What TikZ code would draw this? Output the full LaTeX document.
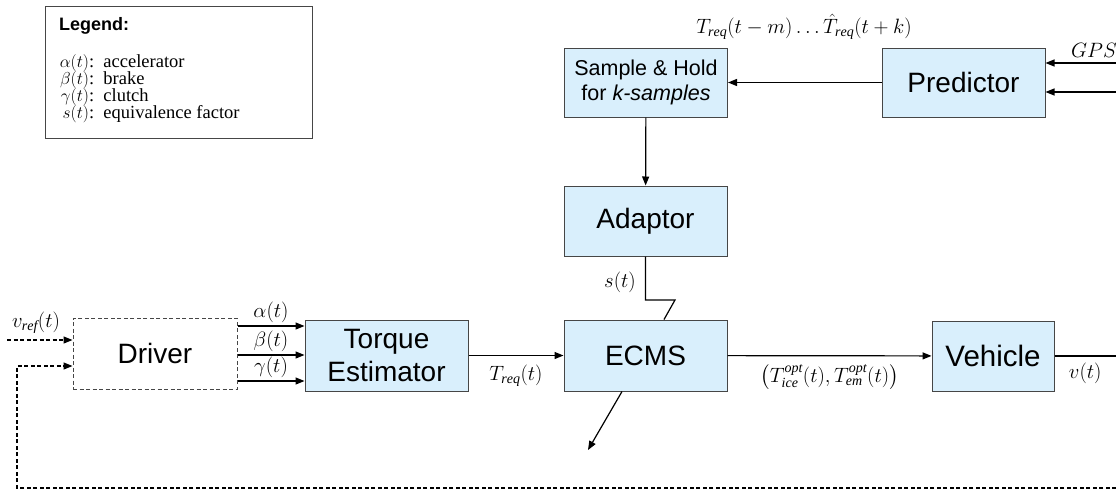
\documentclass[tikz,border=0pt]{standalone}
\usepackage{amsmath}
\usepackage{fontspec}
\setmainfont{Liberation Serif}
\setsansfont{Liberation Sans}
\usetikzlibrary{arrows.meta}
\definecolor{boxblue}{RGB}{217,239,252}
\definecolor{boxline}{RGB}{70,70,70}
\tikzset{
  block/.style={draw=boxline, fill=boxblue, line width=1pt, inner sep=0pt, align=center,
    minimum width=163pt, minimum height=70pt, font=\sffamily\fontsize{28}{33}\selectfont},
  sig/.style={line width=1.2pt, -{Triangle[length=9pt,width=7pt]}},
  wire/.style={line width=1.2pt},
  dashline/.style={dash pattern=on 4pt off 2.5pt},
  lbl/.style={font=\fontsize{20}{24}\selectfont, inner sep=0pt},
  legrow/.style={anchor=base west, inner sep=0pt, font=\fontsize{18.5}{20}\selectfont},
}
\newcommand{\legsym}[1]{\makebox[44pt][r]{$#1$:}\ \ }

\begin{document}
\begin{tikzpicture}[x=1pt, y=-1pt]
    \useasboundingbox (0,0) rectangle (1116,490);
    \clip (0,0) rectangle (1116,490);
    % legend
    \node[draw=boxline, line width=1pt, minimum width=267pt, minimum height=132pt, anchor=north west] (legend) at (45,6) {};
    \node[anchor=base west, inner sep=0pt, font=\sffamily\bfseries\fontsize{18}{20}\selectfont] (legtitle) at (59,30) {Legend:};
    \node[legrow] (legalpha) at (50,67) {\legsym{\alpha(t)}accelerator};
    \node[legrow] (legbeta) at (50,84) {\legsym{\beta(t)}brake};
    \node[legrow] (leggamma) at (50,101) {\legsym{\gamma(t)}clutch};
    \node[legrow] (legs) at (50,118) {\legsym{s(t)}equivalence factor};
    % blocks
    \node[block, fill=none, dashline, minimum width=164pt, minimum height=71pt] (driver) at (155,353.5) {Driver};
    \node[block, minimum height=71pt] (torque) at (386.5,355.5) {Torque\\Estimator};
    \node[block, minimum height=71pt] (ecms) at (645.5,355.5) {ECMS};
    \node[block, minimum width=122pt, font=\sffamily\fontsize{29.5}{33}\selectfont] (vehicle) at (993,356) {Vehicle};
    \node[block] (adaptor) at (645.5,221) {Adaptor};
    \node[block, minimum height=69pt, font=\sffamily\fontsize{21.5}{25.5}\selectfont] (sah) at (646,82.5) {Sample \& Hold\\for \textit{k-samples}};
    \node[block, minimum width=163pt, minimum height=69pt] (pred) at (963.5,82.5) {Predictor};
    % free ends
    \coordinate (vrefin) at (7,340);
    \coordinate (vout) at (1116,356);
    \coordinate (fbright) at (1116,488);
    \coordinate (fbleft) at (17,488);
    \coordinate (gpsin) at (1116,63);
    \coordinate (mapin) at (1116,92);
    \coordinate (sbend) at (675,300);
    \coordinate (ecmsout) at (588,450);
    % driver side
    \draw[sig, dashline] (vrefin) -- (driver.west |- vrefin);
    \node[lbl] (vreflbl) at (36,323) {$v_{\mathit{ref}}(t)$};
    \draw[sig, dashline] (fbright) -- (fbleft) |- ([yshift=-12.5pt]driver.west);
    \draw[sig] (driver.east |- 0,326) -- (torque.west |- 0,326) node[lbl, midway, above=3pt] (alphalbl) {$\alpha(t)$};
    \draw[sig] (driver.east |- 0,355) -- (torque.west |- 0,355) node[lbl, midway, above=3pt] (betalbl) {$\beta(t)$};
    \draw[sig] (driver.east |- 0,381) -- (torque.west |- 0,381) node[lbl, midway, above=3pt] (gammalbl) {$\gamma(t)$};
    % main chain
    \draw[sig] (torque) -- (ecms) node[lbl, midway, below=9pt] (treqlbl) {$T_{\mathit{req}}(t)$};
    \draw[sig] (ecms) -- (vehicle) node[lbl, midway, below=8pt] (optlbl) {$\left(T^{\mathit{opt}}_{\mathit{ice}}(t),T^{\mathit{opt}}_{\mathit{em}}(t)\right)$};
    \draw[wire] (vehicle) -- (vout) node[lbl, midway, below=6pt] (vlbl) {$v(t)$};
    \draw[sig] ([xshift=-23.5pt]ecms.south) -- (ecmsout);
    % prediction branch
    \draw[sig] (gpsin) -- (pred.east |- gpsin);
    \node[lbl, anchor=base west] (gpslbl) at (1071,57) {$GPS$};
    \draw[sig] (mapin) -- (pred.east |- mapin);
    \draw[sig] (pred) -- (sah);
    \node[lbl] (horizonlbl) at (804,27) {$T_{\mathit{req}}(t-m)\ldots\hat{T}_{\mathit{req}}(t+k)$};
    \draw[sig] (sah) -- (adaptor);
    \draw[wire] (adaptor.south) |- (sbend) -- ([xshift=18.5pt]ecms.north);
    \node[lbl] (slbl) at (620,282) {$s(t)$};
\end{tikzpicture}
\end{document}
